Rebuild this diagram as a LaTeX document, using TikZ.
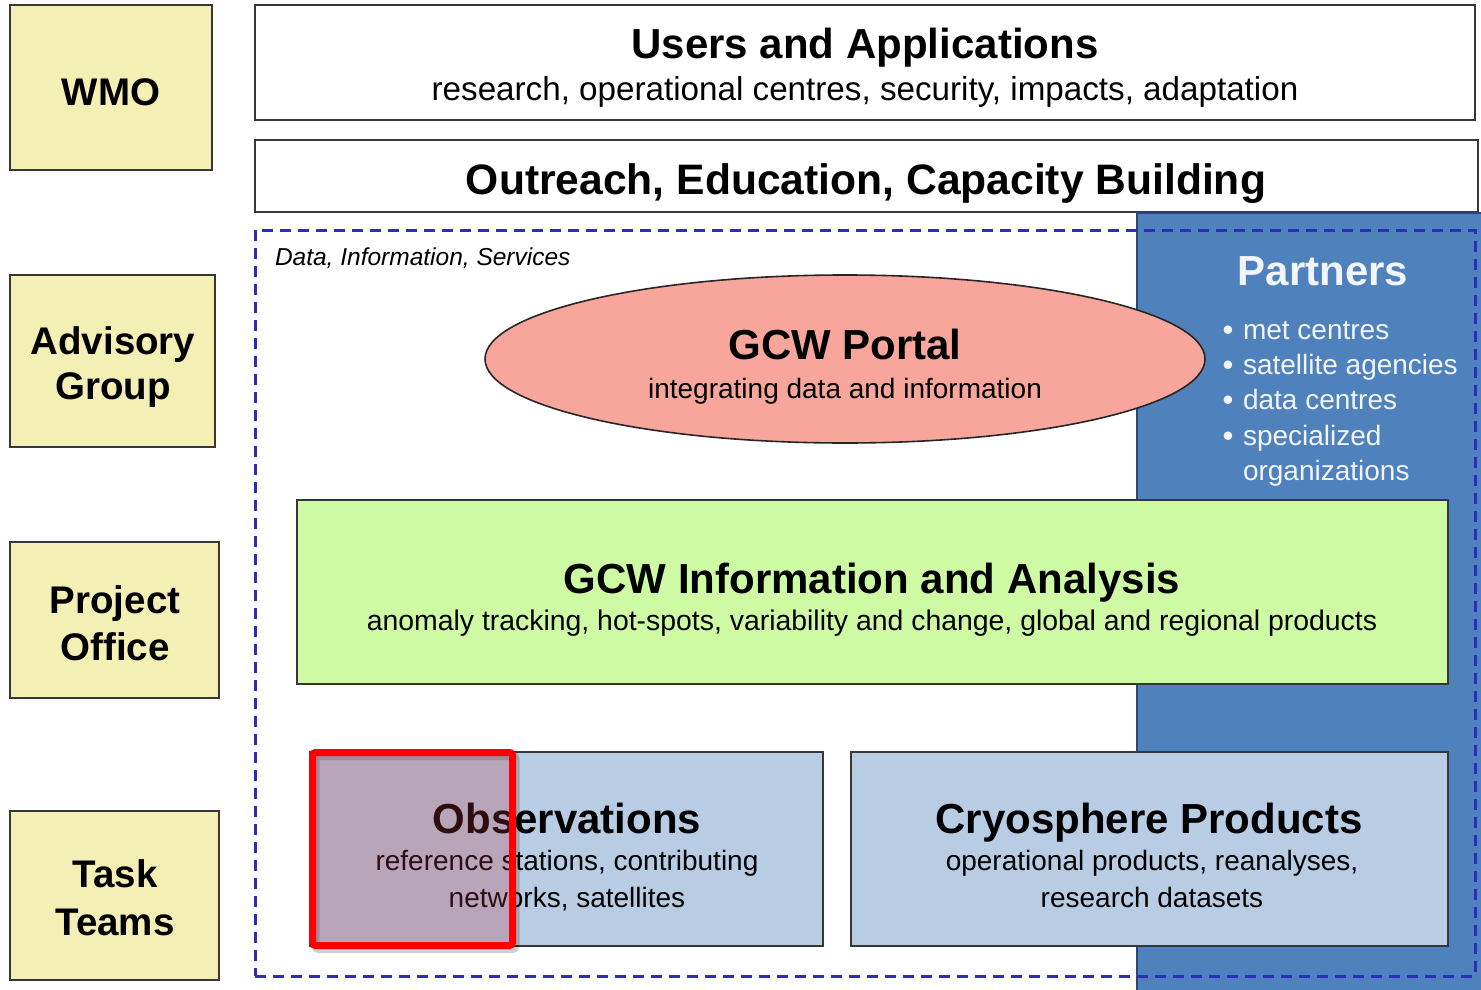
\documentclass[tikz,border=0pt]{standalone}
\usepackage{fontspec}
\setmainfont{Liberation Sans}
\usetikzlibrary{shapes.geometric}

\definecolor{sideyellow}{RGB}{243,239,181}
\definecolor{boxline}{RGB}{55,55,55}
\definecolor{portalred}{RGB}{248,166,156}
\definecolor{analysisgreen}{RGB}{205,250,163}
\definecolor{taskblue}{RGB}{184,204,228}
\definecolor{partnerblue}{RGB}{79,129,189}
\definecolor{partneredge}{RGB}{45,70,110}
\definecolor{dashblue}{RGB}{45,45,185}
\definecolor{marker}{RGB}{190,50,60}
\definecolor{partnertext}{RGB}{242,245,250}

\newcommand\headfont{\fontsize{42}{48}\selectfont\bfseries}
\newcommand\bodyfont{\fontsize{28}{37}\selectfont}
\newcommand\sidefont{\fontsize{38.5}{46}\selectfont\bfseries}

\begin{document}
\begin{tikzpicture}[x=1pt,y=-1pt,
  every node/.style={inner sep=0pt,outer sep=0pt},
  sidebox/.style={draw=boxline,line width=1.8pt,fill=sideyellow,rectangle},
  sidetext/.style={anchor=base,font=\sidefont},
  bandbox/.style={draw=boxline,line width=1.8pt,fill=white,rectangle},
  panelbox/.style={draw=boxline,line width=1.8pt,rectangle},
  headtext/.style={anchor=base,font=\headfont},
  bodytext/.style={anchor=base,font=\bodyfont},
  listtext/.style={anchor=base west,font=\bodyfont,text=partnertext},
  listdot/.style={anchor=base,font=\fontsize{31}{36}\selectfont,text=partnertext},
]
\useasboundingbox (0,0) rectangle (1481,990);

% governance column
\node[sidebox,minimum width=202pt,minimum height=165pt] (wmo) at (111,87.5) {};
\node[sidetext] (wmotext) at (111,105) {WMO};
\node[sidebox,minimum width=205pt,minimum height=172pt] (advisory) at (112.5,361) {};
\node[sidetext] (advisory1) at (113,354) {Advisory};
\node[sidetext] (advisory2) at (113,399) {Group};
\node[sidebox,minimum width=209pt,minimum height=156pt] (office) at (114.5,620) {};
\node[sidetext] (office1) at (115,613) {Project};
\node[sidetext] (office2) at (115,660) {Office};
\node[sidebox,minimum width=209pt,minimum height=169pt] (teams) at (114.5,895.5) {};
\node[sidetext] (teams1) at (115,887) {Task};
\node[sidetext] (teams2) at (115,935) {Teams};

% top bands
\node[bandbox,minimum width=1220pt,minimum height=115pt] (users) at (865,62.5) {};
\node[headtext] (userstitle) at (865,59) {Users and Applications};
\node[anchor=base,font=\fontsize{33.2}{36}\selectfont] (userssub) at (865,100) {research, operational centres, security, impacts, adaptation};

\node[bandbox,minimum width=1223pt,minimum height=72pt] (outreach) at (866.5,176) {};
\node[anchor=base,font=\fontsize{42.6}{48}\selectfont\bfseries] (outreachtitle) at (866,194) {Outreach, Education, Capacity Building};

% partners column
\node[draw=partneredge,line width=1.2pt,fill=partnerblue,minimum width=346pt,minimum height=779pt] (partners) at (1310,602.5) {};

% data, information, services frame
\node[draw=dashblue,line width=3pt,dash pattern=on 11pt off 7pt,minimum width=1220pt,minimum height=746pt] (dis) at (865,603) {};
\node[anchor=base west,font=\fontsize{24.5}{28}\selectfont\itshape] (distitle) at (275,265) {Data, Information, Services};

% portal
\node[ellipse,draw=black!85,line width=1.6pt,fill=portalred,minimum width=720pt,minimum height=168pt] (portal) at (845,359) {};
\node[headtext] (portaltitle) at (845,359) {GCW Portal};
\node[bodytext] (portalsub) at (845,398) {integrating data and information};

% partner list
\node[headtext,text=partnertext] (partnerstitle) at (1323,285) {Partners};
\node[listdot] (b1) at (1228,340) {•};
\node[listtext] (p1) at (1243,339) {met centres};
\node[listdot] (b2) at (1228,375) {•};
\node[listtext] (p2) at (1243,374) {satellite agencies};
\node[listdot] (b3) at (1228,410) {•};
\node[listtext] (p3) at (1243,409) {data centres};
\node[listdot] (b4) at (1228,446) {•};
\node[listtext] (p4) at (1243,445) {specialized};
\node[listtext] (p5) at (1243,480) {organizations};

% information and analysis
\node[panelbox,fill=analysisgreen,minimum width=1151pt,minimum height=184pt] (analysis) at (872.5,592) {};
\node[headtext] (analysistitle) at (872,593) {GCW Information and Analysis};
\node[anchor=base,font=\fontsize{28.4}{37}\selectfont] (analysissub) at (872,630) {anomaly tracking, hot-spots, variability and change, global and regional products};

% task panels
\node[panelbox,fill=taskblue,minimum width=513pt,minimum height=194pt] (obs) at (566.5,849) {};
\node[headtext] (obstitle) at (567,833) {Observations};
\node[bodytext] (obssub1) at (567,870) {reference stations, contributing};
\node[bodytext] (obssub2) at (567,907) {networks, satellites};

\node[panelbox,fill=taskblue,minimum width=597pt,minimum height=194pt] (cryo) at (1149.5,849) {};
\node[headtext] (cryotitle) at (1149,833) {Cryosphere Products};
\node[bodytext] (cryosub1) at (1152,870) {operational products, reanalyses,};
\node[bodytext] (cryosub2) at (1152,907) {research datasets};

% highlight marker with its shadow
\draw[black,opacity=0.18,line width=8pt,rounded corners=3pt] (315.5,756) rectangle (515.5,949);
\node[draw=red,line width=7pt,rounded corners=3pt,fill=marker,fill opacity=0.25,
  minimum width=200pt,minimum height=193pt] (highlight) at (412.5,849) {};
\end{tikzpicture}
\end{document}
